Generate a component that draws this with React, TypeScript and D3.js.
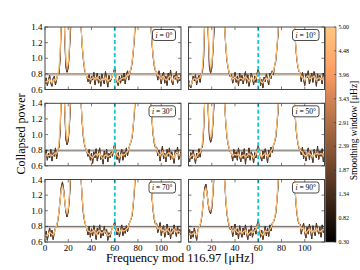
import React from 'react';
import * as d3 from 'd3';

const inclinations = [0, 10, 30, 50, 70, 90];

const power_i0 = [
  0.67,0.75,0.65,0.72,0.78,0.68,0.64,0.74,0.77,0.66,0.73,0.80,
  0.80,0.98,1.45,2.20,1.90,1.25,0.88,0.82,0.88,1.10,1.35,2.40,3.00,3.20,3.10,2.90,2.60,2.00,1.55,1.42,1.15,0.98,0.86,0.80,0.77,
  0.70,0.79,0.67,0.77,0.72,0.82,0.66,0.75,0.81,0.68,0.77,0.64,0.80,0.72,0.67,0.83,0.74,0.63,0.78,0.70,0.73,0.79,0.82,0.88,0.76,0.69,0.65,0.77,0.68,0.78,0.71,0.81,0.67,0.79,0.84,0.72,0.83,0.86,
  0.95,1.10,1.28,1.60,2.30,3.00,3.20,3.10,3.30,3.00,3.20,3.10,3.00,2.80,2.20,1.65,1.45,1.20,1.02,0.90,0.84,
  0.82,0.72,0.84,0.75,0.67,0.79,0.82,0.68,0.77,0.65,0.81,0.72,0.85,0.70,0.66,0.78,0.73,0.83,0.68,0.76,0.71,0.79,
];
const power_i10 = [
  0.73,0.65,0.62,0.69,0.77,0.71,0.79,0.66,0.74,0.78,0.69,0.81,
  0.82,1.00,1.50,2.30,1.95,1.30,0.88,0.81,0.87,1.08,1.36,2.30,3.00,3.10,3.20,3.00,2.70,2.10,1.60,1.43,1.16,0.98,0.88,0.81,0.76,
  0.79,0.68,0.74,0.82,0.69,0.77,0.65,0.81,0.71,0.78,0.67,0.75,0.83,0.68,0.79,0.64,0.72,0.81,0.75,0.66,0.77,0.69,0.81,0.86,0.78,0.65,0.73,0.62,0.76,0.70,0.80,0.72,0.66,0.81,0.74,0.84,0.79,0.90,
  0.96,1.12,1.30,1.62,2.30,3.00,3.10,3.20,3.00,3.10,3.00,2.90,3.00,2.80,2.25,1.68,1.45,1.20,1.01,0.90,0.83,
  0.81,0.70,0.82,0.73,0.65,0.80,0.75,0.84,0.67,0.74,0.81,0.69,0.83,0.76,0.64,0.80,0.71,0.78,0.74,0.67,0.81,0.73,
];
const power_i30 = [
  0.74,0.80,0.67,0.76,0.70,0.81,0.66,0.77,0.72,0.83,0.69,0.80,
  0.83,1.02,1.50,2.20,1.85,1.30,0.93,0.87,0.92,1.12,1.38,2.30,3.00,3.10,3.00,3.20,2.70,2.00,1.60,1.42,1.15,0.97,0.87,0.82,0.78,
  0.72,0.81,0.67,0.76,0.63,0.78,0.70,0.82,0.66,0.75,0.83,0.68,0.73,0.62,0.79,0.69,0.81,0.65,0.76,0.70,0.78,0.72,0.82,0.89,0.78,0.68,0.77,0.64,0.75,0.81,0.67,0.78,0.71,0.83,0.73,0.82,0.87,0.91,
  0.97,1.13,1.30,1.62,2.30,3.00,3.20,3.10,3.00,3.20,3.10,3.00,2.90,2.80,2.20,1.66,1.44,1.19,1.00,0.89,0.83,
  0.84,0.73,0.80,0.66,0.77,0.85,0.69,0.76,0.65,0.81,0.72,0.83,0.68,0.78,0.71,0.63,0.80,0.75,0.84,0.68,0.73,0.78,
];
const power_i50 = [
  0.73,0.65,0.77,0.69,0.80,0.72,0.63,0.76,0.70,0.82,0.71,0.82,
  0.84,1.05,1.48,1.90,1.70,1.28,0.97,0.90,0.95,1.14,1.40,2.30,3.00,3.10,3.20,3.00,2.60,2.00,1.60,1.42,1.16,0.98,0.88,0.82,0.77,
  0.76,0.66,0.81,0.70,0.78,0.67,0.83,0.72,0.65,0.78,0.69,0.82,0.62,0.76,0.70,0.83,0.67,0.78,0.73,0.64,0.77,0.70,0.81,0.86,0.78,0.72,0.66,0.79,0.69,0.82,0.74,0.64,0.80,0.71,0.84,0.77,0.86,0.90,
  0.96,1.12,1.29,1.60,2.30,3.00,3.10,3.20,3.10,3.00,3.20,3.00,2.90,2.80,2.20,1.65,1.44,1.18,1.00,0.90,0.82,
  0.82,0.74,0.84,0.69,0.78,0.66,0.76,0.83,0.68,0.79,0.73,0.64,0.81,0.75,0.70,0.85,0.68,0.79,0.72,0.82,0.65,0.77,
];
const power_i70 = [
  0.66,0.74,0.62,0.71,0.78,0.67,0.75,0.63,0.72,0.78,0.80,0.87,
  0.98,1.14,1.30,1.37,1.28,1.12,0.98,0.92,0.99,1.16,1.40,2.30,3.00,3.10,3.00,3.20,2.70,2.00,1.60,1.42,1.15,0.97,0.87,0.81,0.77,
  0.69,0.80,0.66,0.77,0.68,0.81,0.73,0.63,0.78,0.70,0.82,0.65,0.75,0.68,0.80,0.71,0.76,0.62,0.72,0.66,0.74,0.78,0.81,0.86,0.77,0.69,0.78,0.67,0.75,0.82,0.68,0.78,0.71,0.81,0.73,0.82,0.86,0.89,
  0.95,1.10,1.28,1.60,2.30,3.00,3.20,3.00,3.10,3.20,3.00,3.10,2.90,2.80,2.20,1.65,1.43,1.18,1.00,0.89,0.83,
  0.84,0.72,0.77,0.85,0.68,0.76,0.81,0.66,0.74,0.83,0.69,0.78,0.64,0.77,0.70,0.82,0.74,0.67,0.80,0.71,0.76,0.69,
];
const power_i90 = [
  0.68,0.76,0.64,0.74,0.66,0.78,0.70,0.62,0.75,0.79,0.81,0.88,
  1.00,1.16,1.30,1.34,1.22,1.08,1.00,0.96,1.03,1.22,1.45,2.30,3.00,3.10,3.20,3.00,2.70,2.00,1.60,1.42,1.15,0.97,0.87,0.81,0.76,
  0.80,0.67,0.75,0.83,0.69,0.77,0.64,0.81,0.72,0.66,0.78,0.69,0.82,0.71,0.63,0.76,0.68,0.81,0.66,0.73,0.78,0.70,0.82,0.88,0.77,0.66,0.75,0.63,0.72,0.80,0.68,0.78,0.67,0.82,0.74,0.84,0.85,0.90,
  0.96,1.12,1.30,1.62,2.30,3.00,3.10,3.20,3.00,3.10,3.00,3.20,2.90,2.80,2.20,1.66,1.44,1.19,1.00,0.89,0.83,
  0.83,0.70,0.78,0.84,0.72,0.65,0.79,0.70,0.83,0.75,0.64,0.81,0.73,0.68,0.84,0.76,0.70,0.79,0.66,0.82,0.72,0.78,
];
const panelPowers = [power_i0, power_i10, power_i30, power_i50, power_i70, power_i90];

const freqStep = 1.0; // µHz per sample
const period = 116.97;
const xTicks = [0, 20, 40, 60, 80, 100];
const yTicks = [0.6, 0.8, 1.0, 1.2, 1.4];
const yTickLabels = ['0.6', '0.8', '1.0', '1.2', '1.4'];
const refLevel = 0.8;
const meanLevel = 0.785;
const markerFreq = 60;
const smoothMin = 0.3;
const smoothMax = 5.0;
const smoothingWindows = [1.87, 3.43, 5.0];
const colorbarTicks = [0.30, 0.82, 1.34, 1.87, 2.39, 2.91, 3.43, 3.96, 4.48, 5.00];

const copper = (t: number) => {
  const r = Math.min(1, 1.25 * t) * 255;
  const g = 0.7812 * t * 255;
  const b = 0.4975 * t * 255;
  return d3.rgb(r, g, b).formatHex();
};

function smooth(vals: number[], w: number) {
  const sigma = w / 5 / freqStep;
  const half = Math.max(1, Math.ceil(3 * sigma));
  return vals.map((_, i) => {
    let s = 0, ws = 0;
    for (let k = -half; k <= half; k++) {
      const j = i + k;
      if (j < 0 || j >= vals.length) continue;
      const wt = Math.exp(-(k * k) / (2 * sigma * sigma));
      s += wt * vals[j];
      ws += wt;
    }
    return s / ws;
  });
}

const colX = [[45, 181], [188.5, 324.5]];
const rowY = [27, 103.3, 179.5];
const panelH = 62.5;
const serif = "'Liberation Serif', 'DejaVu Serif', serif";

export default function App() {
  const panels = panelPowers.map((vals, p) => {
    const row = Math.floor(p / 2), col = p % 2;
    const [x0, x1] = colX[col];
    const top = rowY[row];
    const bot = top + panelH;
    const x = d3.scaleLinear().domain([0, period]).range([x0, x1]);
    const y = d3.scaleLinear().domain([0.6, 1.4]).range([bot, top]);
    const line = d3.line<number>().x((_, i) => x(i * freqStep)).y(d => y(d));
    const clipId = `clip${p}`;
    const label = `${inclinations[p]}°`;
    const boxW = label.length > 2 ? 26.5 : 23;
    const boxX = x1 - 5.5 - boxW;
    const boxY = top + 2.5;
    return (
      <g key={p}>
        <defs>
          <clipPath id={clipId}>
            <rect x={x0} y={top} width={x1 - x0} height={panelH} />
          </clipPath>
        </defs>
        <rect x={x0} y={top} width={x1 - x0} height={panelH} fill="#fff" />
        <g clipPath={`url(#${clipId})`}>
          <line x1={x0} x2={x1} y1={y(meanLevel)} y2={y(meanLevel)} stroke="#f7c08f" strokeWidth={1.2} />
          <line x1={x0} x2={x1} y1={y(refLevel)} y2={y(refLevel)} stroke="#555" strokeWidth={0.9} />
          <path d={line(vals) || ''} fill="none" stroke="#000" strokeWidth={0.9} />
          {smoothingWindows.map(w => (
            <path key={w} d={line(smooth(vals, w)) || ''} fill="none"
              stroke={copper((w - smoothMin) / (smoothMax - smoothMin))}
              strokeWidth={w === smoothMax ? 1.1 : 0.8} />
          ))}
          <line x1={x(markerFreq)} x2={x(markerFreq)} y1={top} y2={bot}
            stroke="#17c3cf" strokeWidth={1.8} strokeDasharray="4,2.5" />
        </g>
        {xTicks.map(t => (
          <g key={'xt' + t}>
            <line x1={x(t)} x2={x(t)} y1={bot} y2={bot - 3} stroke="#222" strokeWidth={0.6} />
            <line x1={x(t)} x2={x(t)} y1={top} y2={top + 3} stroke="#222" strokeWidth={0.6} />
          </g>
        ))}
        {yTicks.map(t => (
          <g key={'yt' + t}>
            <line x1={x0} x2={x0 + 3} y1={y(t)} y2={y(t)} stroke="#222" strokeWidth={0.6} />
            <line x1={x1} x2={x1 - 3} y1={y(t)} y2={y(t)} stroke="#222" strokeWidth={0.6} />
          </g>
        ))}
        <rect x={x0} y={top} width={x1 - x0} height={panelH} fill="none" stroke="#444" strokeWidth={1} />
        {col === 0 && yTicks.map((t, k) => (
          <text key={'yl' + t} x={x0 - 2.5} y={y(t) + 3} textAnchor="end" fontSize={9} fontFamily={serif} fill="#000">{yTickLabels[k]}</text>
        ))}
        {row === 2 && xTicks.map(t => (
          <text key={'xl' + t} x={x(t)} y={bot + 8.5} textAnchor="middle" fontSize={9} fontFamily={serif} fill="#000">{t}</text>
        ))}
        <rect x={boxX} y={boxY} width={boxW} height={11} rx={2.5} fill="#fff" stroke="#000" strokeWidth={0.7} />
        <text x={boxX + boxW / 2} y={boxY + 8} textAnchor="middle" fontSize={7.5} fontFamily={serif} fill="#000">
          <tspan fontStyle="italic">i</tspan>{' = ' + label}
        </text>
      </g>
    );
  });

  const cbX = 325.5, cbW = 10.5, cbTop = rowY[0], cbBot = rowY[2] + panelH;
  const cbScale = d3.scaleLinear().domain([smoothMin, smoothMax]).range([cbBot, cbTop]);
  const stops = d3.range(0, 1.0001, 0.1);

  return (
    <svg width={360} height={270} style={{ position: 'absolute', left: 0, top: 0, background: '#fff' }}>
      <defs>
        <linearGradient id="cbgrad" x1="0" y1="1" x2="0" y2="0">
          {stops.map(s => <stop key={s} offset={s} stopColor={copper(s)} />)}
        </linearGradient>
      </defs>
      {panels}
      <rect x={cbX} y={cbTop} width={cbW} height={cbBot - cbTop} fill="url(#cbgrad)" stroke="#444" strokeWidth={0.6} />
      {colorbarTicks.map(t => (
        <g key={'cb' + t}>
          <line x1={cbX + cbW} x2={cbX + cbW - 2} y1={cbScale(t)} y2={cbScale(t)} stroke="#222" strokeWidth={0.5} />
          <text x={cbX + cbW + 2.5} y={cbScale(t) + 2} fontSize={6} fontFamily={serif} fill="#000">{t.toFixed(2)}</text>
        </g>
      ))}
      <text transform={`translate(357,${(cbTop + cbBot) / 2 - 4}) rotate(-90)`} textAnchor="middle" fontSize={9.5} fontFamily={serif} fill="#000">Smoothing window [μHz]</text>
      <text transform={`translate(25,134) rotate(-90)`} textAnchor="middle" fontSize={12} fontFamily={serif} fill="#000">Collapsed power</text>
      <text x={180} y={262} textAnchor="middle" fontSize={12.5} fontFamily={serif} fill="#000">Frequency mod 116.97  [μHz]</text>
    </svg>
  );
}
